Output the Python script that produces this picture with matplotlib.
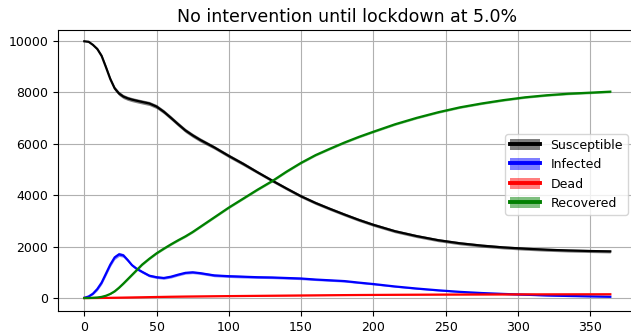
import matplotlib
matplotlib.use("Agg")
import matplotlib.pyplot as plt
from matplotlib.lines import Line2D
from matplotlib.patches import Patch
import numpy as np

# Day grid and mean values
days = [0, 3, 6, 9, 12, 15, 18, 21, 24, 27, 30, 33, 36, 40, 45, 50, 55, 60, 65, 70,
        75, 80, 90, 100, 110, 120, 130, 140, 150, 160, 170, 180, 190, 200, 215, 230,
        245, 260, 275, 290, 305, 320, 335, 350, 364]

susceptible = [9990, 9970, 9850, 9690, 9420, 8980, 8520, 8160, 7960, 7840, 7770, 7720,
               7680, 7630, 7570, 7450, 7250, 7010, 6760, 6520, 6330, 6160, 5860, 5530,
               5220, 4890, 4570, 4260, 3960, 3700, 3470, 3250, 3040, 2850, 2600, 2410,
               2250, 2130, 2040, 1970, 1920, 1880, 1850, 1830, 1815]

infected = [10, 60, 170, 350, 600, 950, 1300, 1580, 1700, 1660, 1480, 1280, 1150, 1020,
            870, 810, 780, 830, 910, 980, 1000, 970, 880, 850, 830, 810, 800, 780, 760,
            720, 690, 660, 600, 545, 450, 370, 300, 240, 195, 160, 130, 100, 80, 65, 50]

dead = [0, 0, 1, 2, 4, 6, 8, 11, 14, 17, 20, 23, 26, 30, 35, 40, 45, 50, 54, 58, 61, 64,
        70, 75, 80, 85, 90, 95, 100, 105, 110, 114, 118, 121, 126, 130, 134, 137, 139,
        141, 143, 144, 145, 146, 147]

recovered = [0, 2, 8, 20, 45, 90, 160, 260, 400, 560, 730, 900, 1070, 1300, 1530, 1740,
             1920, 2090, 2250, 2400, 2570, 2760, 3140, 3520, 3870, 4220, 4550, 4920,
             5260, 5560, 5810, 6050, 6270, 6470, 6760, 7010, 7230, 7420, 7570, 7700,
             7810, 7890, 7950, 7990, 8030]

# spread of the runs (half width of the shaded band)
sus_std = [10, 15, 30, 50, 70, 80, 80, 80, 80, 80, 80, 80, 80, 80, 80, 80, 80, 80, 80,
           80, 80, 80, 70, 70, 70, 60, 60, 60, 60, 60, 60, 60, 60, 60, 60, 60, 60, 60, 60,
           60, 60, 60, 60, 60, 60]
inf_std = [5, 20, 40, 60, 70, 80, 80, 80, 80, 70, 60, 50, 50, 50, 50, 50, 50, 50, 50, 50,
           50, 50, 50, 50, 50, 45, 45, 45, 45, 40, 40, 40, 35, 35, 30, 30, 25, 25, 20, 20,
           20, 15, 15, 15, 15]
dead_std = [0, 1, 2, 3, 4, 5, 6, 8, 10, 12, 14, 15, 15, 15, 15, 15, 15, 15, 15, 15, 15,
            15, 15, 15, 15, 15, 15, 15, 15, 15, 15, 15, 15, 15, 15, 15, 15, 15, 15, 15,
            15, 15, 15, 15, 15]
rec_std = [0, 2, 4, 8, 12, 16, 20, 25, 30, 35, 40, 40, 40, 40, 40, 40, 40, 40, 40, 40,
           40, 40, 40, 40, 40, 40, 40, 40, 40, 40, 40, 40, 40, 40, 40, 40, 40, 40, 40, 40,
           40, 40, 40, 40, 40]

series = [
    ("Susceptible", susceptible, sus_std, "black"),
    ("Infected", infected, inf_std, "blue"),
    ("Dead", dead, dead_std, "red"),
    ("Recovered", recovered, rec_std, "green"),
]

plt.rcParams["font.size"] = 9

fig = plt.figure(figsize=(6.31, 3.33), dpi=100)
ax = fig.add_axes([0.0919, 0.066, 0.917, 0.844])

handles = []
for name, mean, std, color in series:
    m = np.array(mean, dtype=float)
    s = np.array(std, dtype=float)
    ax.fill_between(days, m - s, m + s, color=color, alpha=0.5, linewidth=0)
    ax.plot(days, m, color=color, linewidth=1.6)
    handles.append((Patch(facecolor=color, alpha=0.5, edgecolor="none"),
                    Line2D([], [], color=color, linewidth=2.8)))

ax.set_xlim(-18.2, 382.2)
ax.set_ylim(-505, 10430)
ax.set_xticks([0, 50, 100, 150, 200, 250, 300, 350])
ax.set_yticks([0, 2000, 4000, 6000, 8000, 10000])
ax.grid(True)
ax.set_axisbelow(True)
ax.set_title("No intervention until lockdown at 5.0%", fontsize=12.5)

ax.legend(handles, [s[0] for s in series], loc="center right",
          bbox_to_anchor=(0.985, 0.486), borderaxespad=0,
          handlelength=2.4, handleheight=1.0)

fig.savefig("out.png", dpi=100)
